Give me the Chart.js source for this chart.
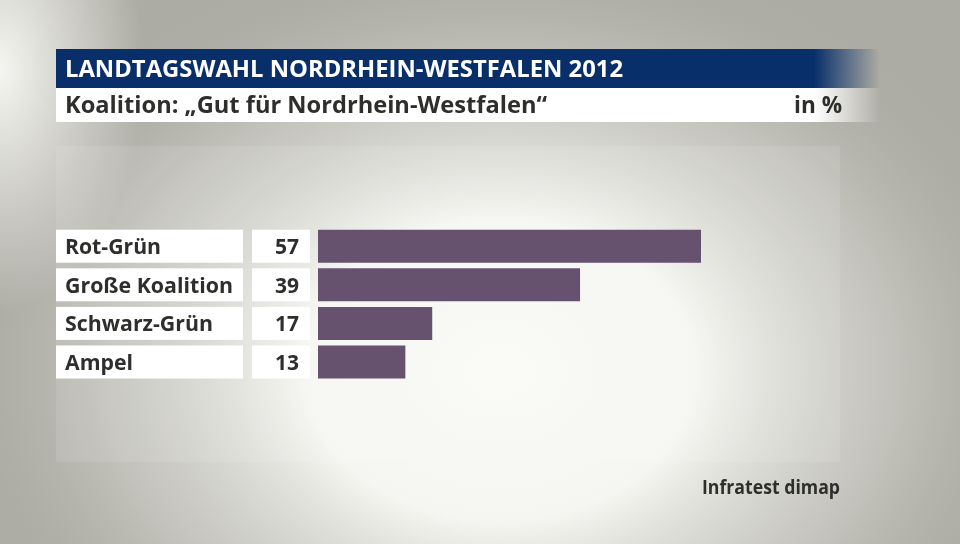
<!DOCTYPE html>
<html>
<head>
<meta charset="utf-8">
<script src="https://cdn.jsdelivr.net/npm/chart.js@4"></script>
<style>
  html, body { margin: 0; padding: 0; background: #adaca4; }
  #wrap { width: 960px; height: 544px; position: relative; }
</style>
</head>
<body>
<div id="wrap"><canvas id="myChart" width="960" height="544"></canvas></div>
<script>
const title = "LANDTAGSWAHL NORDRHEIN-WESTFALEN 2012";
const subtitle = "Koalition: \u201EGut f\u00FCr Nordrhein-Westfalen\u201C";
const unit = "in %";
const source = "Infratest dimap";
const categories = ["Rot-Grün", "Große Koalition", "Schwarz-Grün", "Ampel"];
const values = [57, 39, 17, 13];

const textColor = "#2e2e2c";
const barColor = "#66526f";
const fontFamily = "'Open Sans', 'DejaVu Sans', sans-serif";

// draw text squeezed/stretched horizontally to a given width
function fitText(ctx, text, x, y, width, size, align) {
    ctx.save();
    ctx.font = "bold " + size + "px " + fontFamily;
    ctx.textBaseline = "alphabetic";
    ctx.textAlign = "left";
    let w = ctx.measureText(text).width;
    let s = width / w;
    let left = align === "right" ? x - width : x;
    ctx.translate(left, y);
    ctx.scale(s, 1);
    ctx.fillText(text, 0, 0);
    ctx.restore();
}

const backdrop = {
    id: "backdrop",
    beforeDraw(chart) {
        const ctx = chart.ctx;
        ctx.save();
        ctx.fillStyle = "#adaca4";
        ctx.fillRect(0, 0, 960, 544);

        // soft light spot in the middle
        ctx.save();
        ctx.translate(500, 370);
        ctx.scale(1.3, 1);
        let g = ctx.createRadialGradient(0, 0, 0, 0, 0, 430);
        g.addColorStop(0, "rgba(250,250,246,1)");
        g.addColorStop(0.35, "rgba(245,245,241,1)");
        g.addColorStop(0.7, "rgba(210,210,204,0.6)");
        g.addColorStop(1, "rgba(173,172,164,0)");
        ctx.fillStyle = g;
        ctx.fillRect(-600, -500, 1200, 1000);
        ctx.restore();

        // light on upper left edge
        ctx.save();
        ctx.translate(0, 70);
        ctx.scale(0.6, 1);
        g = ctx.createRadialGradient(0, 0, 0, 0, 0, 240);
        g.addColorStop(0, "rgba(245,245,241,1)");
        g.addColorStop(1, "rgba(245,245,241,0)");
        ctx.fillStyle = g;
        ctx.fillRect(-300, -300, 600, 600);
        ctx.restore();

        // chart panel
        ctx.fillStyle = "rgba(255,255,255,0.10)";
        ctx.fillRect(56, 146, 784, 316);

        // title bar
        g = ctx.createLinearGradient(56, 0, 880, 0);
        g.addColorStop(0, "rgba(8,47,106,1)");
        g.addColorStop(0.92, "rgba(8,47,106,1)");
        g.addColorStop(1, "rgba(8,47,106,0)");
        ctx.fillStyle = g;
        ctx.fillRect(56, 49, 824, 39);

        g = ctx.createLinearGradient(56, 0, 880, 0);
        g.addColorStop(0, "rgba(255,255,255,1)");
        g.addColorStop(0.92, "rgba(255,255,255,1)");
        g.addColorStop(1, "rgba(255,255,255,0)");
        ctx.fillStyle = g;
        ctx.fillRect(56, 88, 824, 34);

        ctx.fillStyle = "#ffffff";
        fitText(ctx, title, 65, 77, 558, 23);
        ctx.fillStyle = textColor;
        fitText(ctx, subtitle, 65, 113, 482, 23);
        fitText(ctx, unit, 842, 113, 48, 23, "right");
        fitText(ctx, source, 840, 494, 138, 19, "right");
        ctx.restore();
    },
    afterDatasetsDraw(chart) {
        const ctx = chart.ctx;
        const yScale = chart.scales.y;
        const labelWidths = [96, 168, 148, 68];
        ctx.save();
        categories.forEach(function (cat, i) {
            const yc = yScale.getPixelForValue(i);
            const top = yc - 16.5;
            ctx.fillStyle = "#ffffff";
            ctx.fillRect(56, top, 187, 33);
            ctx.fillRect(252, top, 58, 33);
            ctx.fillStyle = textColor;
            fitText(ctx, cat, 65, yc + 8, labelWidths[i], 21);
            ctx.font = "bold 21px " + fontFamily;
            ctx.textBaseline = "alphabetic";
            ctx.textAlign = "right";
            ctx.fillText(String(values[i]), 299, yc + 8);
        });
        ctx.restore();
    }
};

const pxPerUnit = (701 - 318) / 57;
const xMax = 78;

new Chart(document.getElementById("myChart"), {
    type: "bar",
    data: {
        labels: categories,
        datasets: [
            {
                data: values,
                backgroundColor: barColor,
                borderWidth: 0,
                categoryPercentage: 1,
                barPercentage: 33 / 38.6,
            },
        ],
    },
    options: {
        indexAxis: "y",
        responsive: false,
        animation: false,
        events: [],
        layout: {
            padding: {
                left: 318,
                right: 960 - (318 + pxPerUnit * xMax),
                top: 226.9,
                bottom: 544 - (226.9 + 4 * 38.6),
            },
        },
        plugins: {
            legend: { display: false },
            tooltip: { enabled: false },
        },
        scales: {
            x: { display: false, min: 0, max: xMax },
            y: { display: false },
        },
    },
    plugins: [backdrop],
});
</script>
</body>
</html>
